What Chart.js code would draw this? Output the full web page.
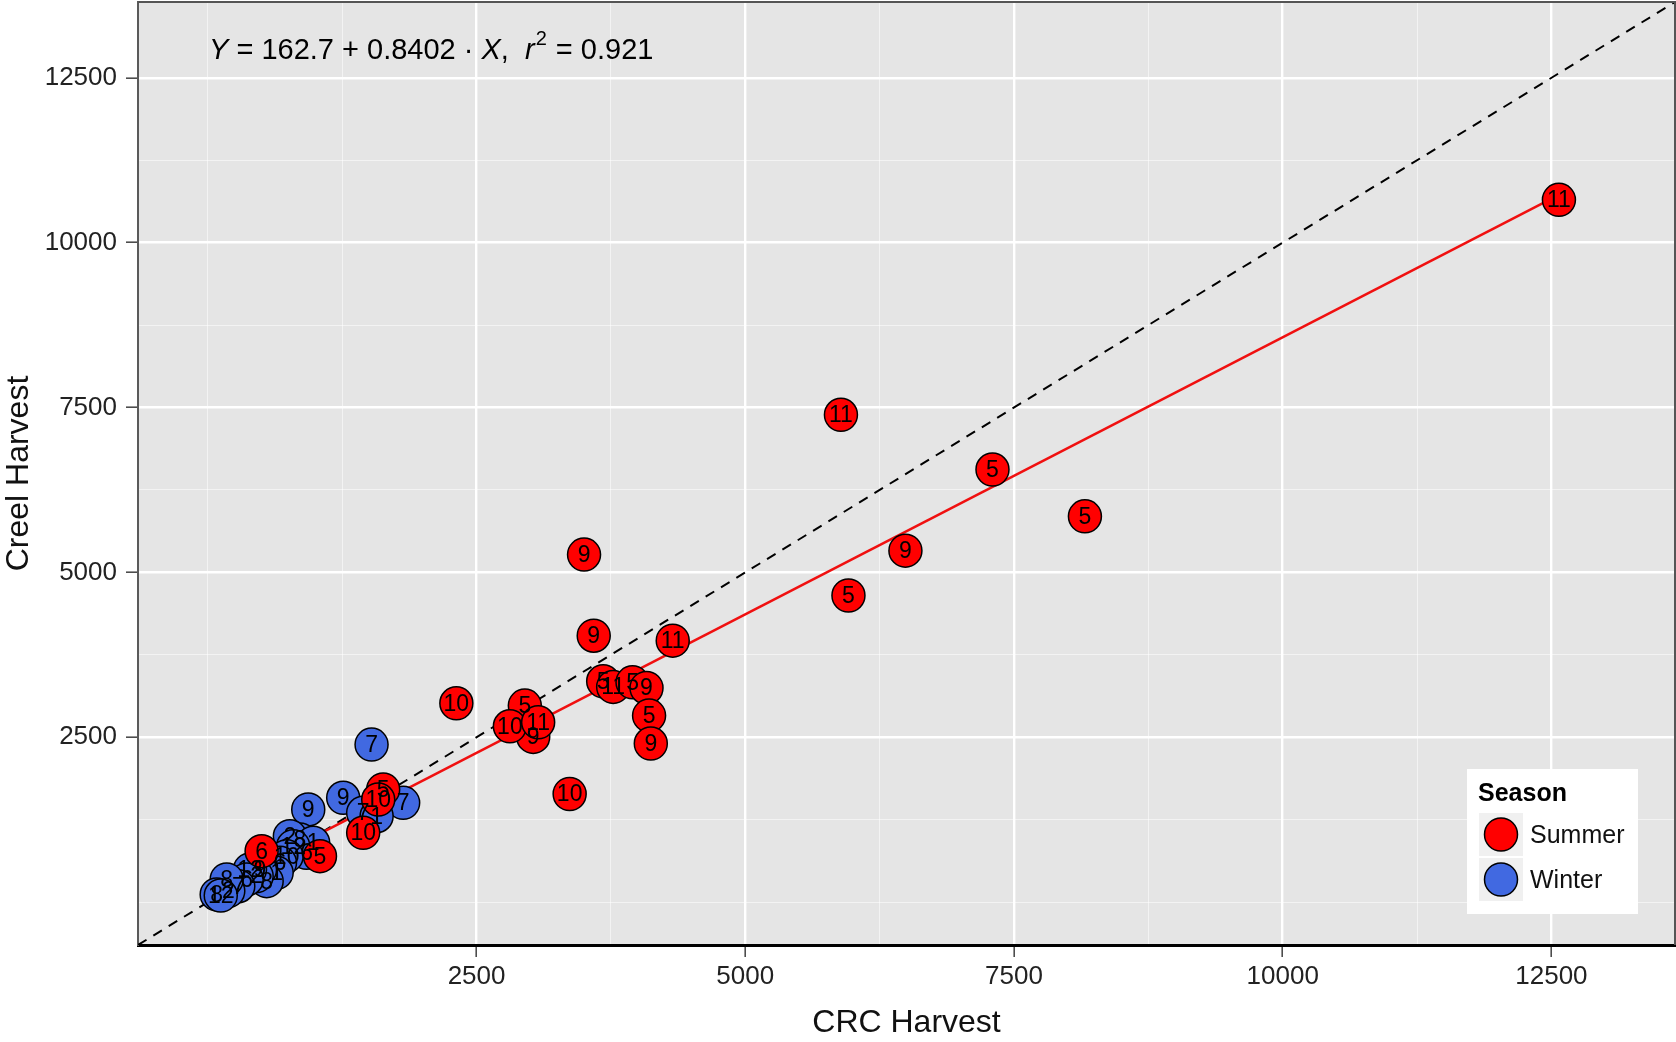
<!DOCTYPE html>
<html>
<head>
<meta charset="utf-8">
<title>Creel vs CRC harvest</title>
<script src="https://cdn.jsdelivr.net/npm/chart.js@4.4.1/dist/chart.umd.min.js"></script>
<style>
  html, body { margin: 0; padding: 0; background: #fff; }
  #wrap { width: 1676px; height: 1042px; position: relative; }
</style>
</head>
<body>
<div id="wrap"><canvas id="harvestChart"></canvas></div>
<script>
// Monthly harvest: CRC estimate (x) against creel survey estimate (y), labelled by month
const summerCRC   = [12570, 5890, 7300, 8160, 6490, 5960, 3500, 3590, 4325, 2312, 3366, 3678, 3771, 3951, 4081, 4105, 4121, 2949, 3027, 2810, 3073, 1631, 1585, 1445, 1043, 500];
const summerCreel = [10650, 7390, 6560, 5850, 5330, 4650, 5270, 4040, 3965, 3015, 1640, 3349, 3264, 3333, 3248, 2829, 2405, 2980, 2506, 2667, 2727, 1708, 1556, 1052, 697, 773];
const summerMonth = [11, 11, 5, 5, 9, 5, 9, 9, 11, 10, 10, 5, 11, 5, 9, 5, 9, 5, 9, 10, 11, 5, 10, 10, 5, 6];

const winterCRC   = [1523, 1259, 1817, 1445, 1570, 934, 857, 763, 918, 980, 794, 733, 671, 640, 547, 485, 454, 392, 361, 283, 190, 175, 82, 120];
const winterCreel = [2389, 1582, 1506, 1355, 1303, 1405, 950, 1000, 748, 900, 848, 697, 597, 445, 318, 495, 394, 495, 344, 242, 167, 344, 117, 100];
const winterMonth = [7, 9, 7, 7, 1, 9, 8, 2, 6, 1, 12, 10, 6, 1, 8, 9, 2, 12, 6, 7, 2, 8, 8, 12];

// axis breaks (labelled) and minor grid breaks
const majorBreaks = [2500, 5000, 7500, 10000, 12500];
const minorBreaks = [0, 1250, 3750, 6250, 8750, 11250];

// fitted regression
const intercept = 162.7;
const slope = 0.8402;
const rSquared = 0.921;

const axisMin = -650;
const axisMax = 13650;
const FONT = "'Liberation Sans', Arial, sans-serif";
const SUMMER_COLOR = '#FF0000';
const WINTER_COLOR = '#4169E1';

const gridBreaks = [...minorBreaks, ...majorBreaks].sort((a, b) => a - b);
const isMajor = tick => !!tick && majorBreaks.includes(tick.value);

function toPoints(xs, ys) {
    return xs.map((x, i) => ({ x: x, y: ys[i] }));
}

const allX = summerCRC.concat(winterCRC);
const fitX = [Math.min(...allX), Math.max(...allX)];
const fitLine = fitX.map(x => ({ x: x, y: intercept + slope * x }));

function axisOptions(titleText, isY) {
    return {
        type: 'linear',
        position: isY ? 'left' : 'bottom',
        min: axisMin,
        max: axisMax,
        afterBuildTicks: scale => {
            scale.ticks = gridBreaks.map(v => ({ value: v }));
        },
        afterFit: scale => {
            if (isY) scale.width = 138; else scale.height = 97;
            scale.paddingTop = 0;
            scale.paddingBottom = 0;
            scale.paddingLeft = 0;
            scale.paddingRight = 0;
        },
        grid: {
            color: c => isMajor(c.tick) ? '#ffffff' : 'rgba(255,255,255,0.55)',
            lineWidth: c => isMajor(c.tick) ? 2.4 : 1,
            tickColor: c => isMajor(c.tick) ? '#4d4d4d' : 'rgba(0,0,0,0)',
            tickWidth: 1.6,
            tickLength: 12
        },
        border: { display: true, color: isY ? '#5a5a5a' : '#000000', width: isY ? 2 : 3 },
        ticks: {
            autoSkip: false,
            maxRotation: 0,
            padding: isY ? 9 : 4,
            color: '#222',
            font: { family: FONT, size: 26 },
            callback: v => majorBreaks.includes(v) ? String(v) : ''
        },
        title: {
            display: true,
            text: titleText,
            color: '#111',
            font: { family: FONT, size: 32 },
            padding: 0
        }
    };
}

// grey panel behind the plot
const panelPlugin = {
    id: 'panel',
    beforeDraw(chart) {
        const { ctx, chartArea: a } = chart;
        ctx.save();
        ctx.fillStyle = '#ffffff';
        ctx.fillRect(0, 0, chart.width, chart.height);
        ctx.fillStyle = '#E5E5E5';
        ctx.fillRect(a.left, a.top, a.right - a.left, a.bottom - a.top);
        ctx.restore();
    },
    afterDraw(chart) {
        const { ctx, chartArea: a } = chart;
        ctx.save();
        ctx.strokeStyle = '#555';
        ctx.lineWidth = 2;
        ctx.beginPath();
        ctx.moveTo(a.left, a.top);
        ctx.lineTo(a.right, a.top);
        ctx.lineTo(a.right, a.bottom);
        ctx.stroke();
        ctx.restore();
    }
};

// month numbers printed on top of every point
const monthLabelPlugin = {
    id: 'monthLabels',
    afterDatasetsDraw(chart) {
        const ctx = chart.ctx;
        ctx.save();
        ctx.font = `23px ${FONT}`;
        ctx.fillStyle = '#000';
        ctx.textAlign = 'center';
        ctx.textBaseline = 'middle';
        chart.data.datasets.forEach((ds, i) => {
            if (!ds.monthLabels) return;
            chart.getDatasetMeta(i).data.forEach((pt, j) => {
                ctx.fillText(String(ds.monthLabels[j]), pt.x, pt.y + 1);
            });
        });
        ctx.restore();
    }
};

// regression equation in the top-left corner
const equationPlugin = {
    id: 'equation',
    afterDraw(chart) {
        const ctx = chart.ctx;
        const pieces = [
            { text: 'Y', italic: true },
            { text: ' = ' + intercept + ' + ' + slope + ' \u00B7 ' },
            { text: 'X', italic: true },
            { text: ',  ' },
            { text: 'r', italic: true },
            { text: '2', sup: true },
            { text: ' = ' + rSquared }
        ];
        let x = 209;
        const baseline = 59;
        ctx.save();
        ctx.fillStyle = '#000';
        ctx.textBaseline = 'alphabetic';
        pieces.forEach(p => {
            if (p.sup) {
                ctx.font = `20px ${FONT}`;
                ctx.fillText(p.text, x + 1, baseline - 14);
                x += ctx.measureText(p.text).width + 2;
            } else {
                ctx.font = `${p.italic ? 'italic ' : ''}29px ${FONT}`;
                ctx.fillText(p.text, x, baseline);
                x += ctx.measureText(p.text).width;
            }
        });
        ctx.restore();
    }
};

// season legend box, bottom right of the panel
const seasonLegendPlugin = {
    id: 'seasonLegend',
    afterDraw(chart) {
        const ctx = chart.ctx;
        const items = chart.data.datasets.filter(ds => ds.monthLabels);
        const left = 1467, top = 769, w = 171, h = 145;
        ctx.save();
        ctx.fillStyle = '#ffffff';
        ctx.fillRect(left, top, w, h);
        ctx.fillStyle = '#000';
        ctx.font = `bold 25px ${FONT}`;
        ctx.textBaseline = 'alphabetic';
        ctx.fillText('Season', left + 11, top + 32);
        items.forEach((ds, i) => {
            const ky = top + 44 + i * 45;
            ctx.fillStyle = '#F0F0F0';
            ctx.fillRect(left + 12, ky, 44, 43);
            ctx.beginPath();
            ctx.arc(left + 34, ky + 21.5, 16.5, 0, Math.PI * 2);
            ctx.fillStyle = ds.backgroundColor;
            ctx.fill();
            ctx.lineWidth = 1.5;
            ctx.strokeStyle = '#000';
            ctx.stroke();
            ctx.fillStyle = '#111';
            ctx.font = `25px ${FONT}`;
            ctx.textBaseline = 'middle';
            ctx.fillText(ds.label, left + 63, ky + 23);
            ctx.textBaseline = 'alphabetic';
        });
        ctx.restore();
    }
};

new Chart(document.getElementById('harvestChart'), {
    type: 'scatter',
    data: {
        datasets: [
            {
                label: 'Summer',
                data: toPoints(summerCRC, summerCreel),
                monthLabels: summerMonth,
                backgroundColor: SUMMER_COLOR,
                borderColor: '#000',
                borderWidth: 1.5,
                pointRadius: 16.5,
                order: 0
            },
            {
                label: 'Winter',
                data: toPoints(winterCRC, winterCreel),
                monthLabels: winterMonth,
                backgroundColor: WINTER_COLOR,
                borderColor: '#000',
                borderWidth: 1.5,
                pointRadius: 16.5,
                order: 1
            },
            {
                type: 'line',
                label: 'Fit',
                data: fitLine,
                borderColor: '#F01010',
                borderWidth: 2.5,
                pointRadius: 0,
                fill: false,
                order: 2
            },
            {
                type: 'line',
                label: '1:1',
                data: [{ x: axisMin, y: axisMin }, { x: axisMax, y: axisMax }],
                borderColor: '#000',
                borderWidth: 2,
                borderDash: [10, 8],
                pointRadius: 0,
                fill: false,
                order: 3
            }
        ]
    },
    options: {
        responsive: true,
        maintainAspectRatio: false,
        animation: false,
        events: [],
        layout: { autoPadding: false, padding: { top: 2, right: 1, left: 0, bottom: 0 } },
        plugins: {
            legend: { display: false },
            tooltip: { enabled: false }
        },
        scales: {
            x: axisOptions('CRC Harvest', false),
            y: axisOptions('Creel Harvest', true)
        }
    },
    plugins: [panelPlugin, monthLabelPlugin, equationPlugin, seasonLegendPlugin]
});
</script>
</body>
</html>
